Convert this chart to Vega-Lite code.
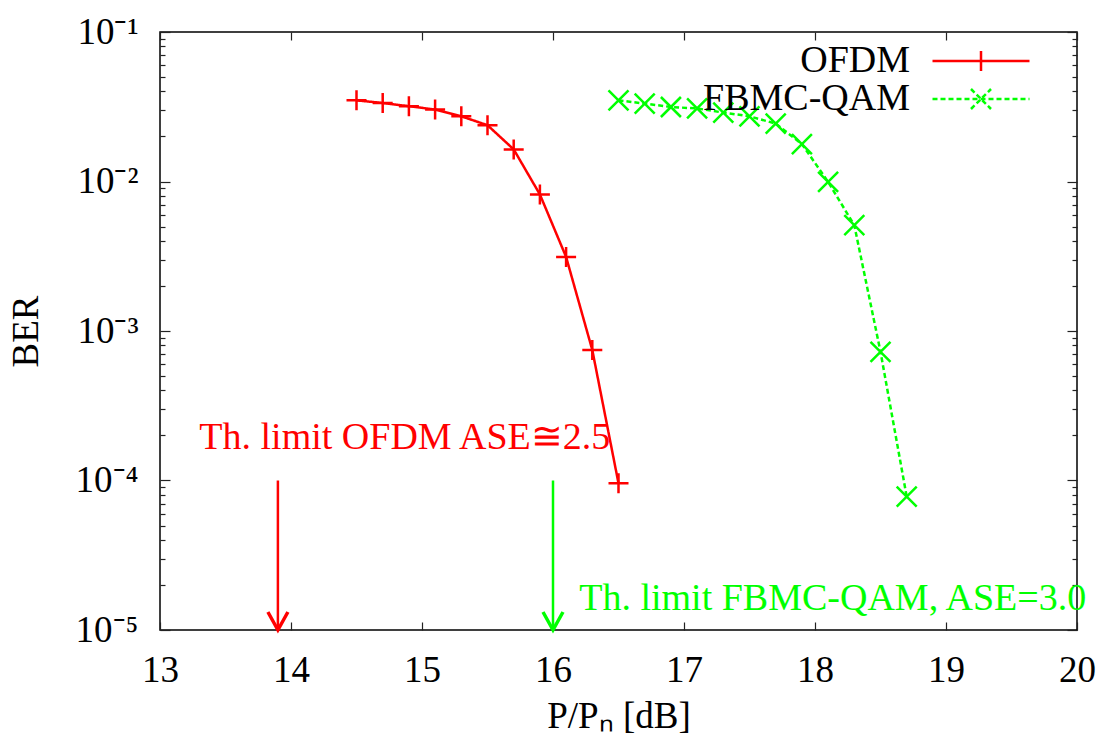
{
  "$schema": "https://vega.github.io/schema/vega-lite/v6.json",
  "width": 917,
  "height": 598,
  "autosize": {"type": "none"},
  "padding": {"left": 160, "top": 32, "right": 32, "bottom": 122},
  "background": "white",
  "config": {
    "font": "Liberation Serif",
    "view": {"stroke": "black", "strokeWidth": 1.5},
    "axis": {
      "labelFont": "Liberation Serif",
      "titleFont": "Liberation Serif",
      "labelFontSize": 37,
      "titleFontSize": 37,
      "labelColor": "black",
      "titleColor": "black",
      "titleFontWeight": "normal",
      "domain": false,
      "grid": false,
      "tickColor": "#222222",
      "tickWidth": 1.2
    }
  },
  "datasets": {
    "curves": [
      {"series": "OFDM", "x": 14.5, "ber": 0.0349},
      {"series": "OFDM", "x": 14.7, "ber": 0.0335},
      {"series": "OFDM", "x": 14.9, "ber": 0.0319},
      {"series": "OFDM", "x": 15.1, "ber": 0.0303},
      {"series": "OFDM", "x": 15.3, "ber": 0.0273},
      {"series": "OFDM", "x": 15.5, "ber": 0.0238},
      {"series": "OFDM", "x": 15.7, "ber": 0.0164},
      {"series": "OFDM", "x": 15.9, "ber": 0.00819},
      {"series": "OFDM", "x": 16.1, "ber": 0.00313},
      {"series": "OFDM", "x": 16.3, "ber": 0.000746},
      {"series": "OFDM", "x": 16.5, "ber": 0.0000958},
      {"series": "FBMC-QAM", "x": 16.5, "ber": 0.0349},
      {"series": "FBMC-QAM", "x": 16.7, "ber": 0.0332},
      {"series": "FBMC-QAM", "x": 16.9, "ber": 0.0315},
      {"series": "FBMC-QAM", "x": 17.1, "ber": 0.0308},
      {"series": "FBMC-QAM", "x": 17.3, "ber": 0.0289},
      {"series": "FBMC-QAM", "x": 17.5, "ber": 0.0273},
      {"series": "FBMC-QAM", "x": 17.7, "ber": 0.0244},
      {"series": "FBMC-QAM", "x": 17.9, "ber": 0.0178},
      {"series": "FBMC-QAM", "x": 18.1, "ber": 0.00994},
      {"series": "FBMC-QAM", "x": 18.3, "ber": 0.0051},
      {"series": "FBMC-QAM", "x": 18.5, "ber": 0.000726},
      {"series": "FBMC-QAM", "x": 18.7, "ber": 0.000078}
    ],
    "arrows": [
      {"series": "OFDM", "x": 13.9, "top": 0.0001, "bottom": 0.00001},
      {"series": "FBMC-QAM", "x": 16.0, "top": 0.0001, "bottom": 0.00001}
    ],
    "notes": [
      {"series": "OFDM", "x": 13.3, "ber": 0.000163, "text": "Th. limit OFDM ASE≅2.5"},
      {"series": "FBMC-QAM", "x": 16.2, "ber": 0.0000136, "text": "Th. limit FBMC-QAM, ASE=3.0"}
    ]
  },
  "layer": [
    {
      "data": {"name": "curves"},
      "mark": {"type": "line", "strokeWidth": 2.5},
      "encoding": {
        "x": {
          "field": "x", "type": "quantitative",
          "scale": {"domain": [13, 20], "nice": false, "zero": false},
          "axis": {
            "orient": "bottom", "values": [13, 14, 15, 16, 17, 18, 19, 20],
            "tickSize": -8, "labelPadding": 30, "title": "P/Pₙ [dB]", "titlePadding": 10,
            "labelFlush": false, "labelOverlap": false
          }
        },
        "y": {
          "field": "ber", "type": "quantitative",
          "scale": {"type": "log", "domain": [0.00001, 0.1], "nice": false},
          "axis": {
            "orient": "left", "values": [0.00001, 0.0001, 0.001, 0.01, 0.1],
            "labelExpr": "'10⁻' + ['⁰','¹','²','³','⁴','⁵'][round(-log(datum.value)/LN10)]",
            "tickSize": -10, "labelPadding": 32, "title": "BER", "titlePadding": 30,
            "labelFlush": false, "labelOverlap": false
          }
        },
        "color": {
          "field": "series", "type": "nominal",
          "scale": {"domain": ["OFDM", "FBMC-QAM"], "range": ["#ff0000", "#00ff00"]},
          "legend": {
            "orient": "none", "legendX": 802, "legendY": 10,
            "title": null, "padding": 0, "rowPadding": 0,
            "labelFont": "Liberation Serif", "labelFontSize": 38, "labelColor": "black",
            "labelOffset": -90, "labelAlign": "right", "labelLimit": 500,
            "symbolSize": 400, "symbolStrokeWidth": 2.5,
            "encode": {
              "symbols": {
                "update": {
                  "shape": {"signal": "datum.value === 'OFDM' ? 'M-4.85,0L4.85,0M0,-1L0,1' : 'M-4.85,0L4.85,0M-1,-1L1,1M-1,1L1,-1'"},
                  "strokeDash": {"signal": "datum.value === 'OFDM' ? [1,0] : [5,3]"},
                  "fill": {"value": "transparent"},
                  "stroke": {"scale": "color", "field": "value"}
                }
              }
            }
          }
        },
        "strokeDash": {
          "field": "series", "type": "nominal",
          "scale": {"domain": ["OFDM", "FBMC-QAM"], "range": [[1, 0], [5, 3]]},
          "legend": null
        }
      }
    },
    {
      "data": {"name": "curves"},
      "transform": [{"filter": "datum.series === 'OFDM'"}],
      "mark": {"type": "point", "filled": false, "size": 400, "strokeWidth": 2.5, "opacity": 1, "shape": "M-1,0L1,0M0,-1L0,1"},
      "encoding": {
        "x": {"field": "x", "type": "quantitative", "axis": null},
        "y": {"field": "ber", "type": "quantitative", "axis": null},
        "color": {"field": "series", "type": "nominal"}
      }
    },
    {
      "data": {"name": "curves"},
      "transform": [{"filter": "datum.series === 'FBMC-QAM'"}],
      "mark": {"type": "point", "filled": false, "size": 400, "strokeWidth": 2.5, "opacity": 1, "shape": "M-1,-1L1,1M-1,1L1,-1"},
      "encoding": {
        "x": {"field": "x", "type": "quantitative", "axis": null},
        "y": {"field": "ber", "type": "quantitative", "axis": null},
        "color": {"field": "series", "type": "nominal"}
      }
    },
    {
      "data": {"name": "arrows"},
      "mark": {"type": "rule", "strokeWidth": 2.5},
      "encoding": {
        "x": {"field": "x", "type": "quantitative", "axis": null},
        "y": {"field": "top", "type": "quantitative", "axis": null},
        "y2": {"field": "bottom"},
        "color": {"field": "series", "type": "nominal"}
      }
    },
    {
      "data": {"name": "arrows"},
      "mark": {"type": "point", "filled": false, "size": 400, "strokeWidth": 3.5, "opacity": 1, "shape": "M-1,-1.8L0,0L1,-1.8"},
      "encoding": {
        "x": {"field": "x", "type": "quantitative", "axis": null},
        "y": {"field": "bottom", "type": "quantitative", "axis": null},
        "color": {"field": "series", "type": "nominal"}
      }
    },
    {
      "data": {"name": "notes"},
      "mark": {"type": "text", "align": "left", "baseline": "alphabetic", "fontSize": 38, "font": "Liberation Serif"},
      "encoding": {
        "x": {"field": "x", "type": "quantitative", "axis": null},
        "y": {"field": "ber", "type": "quantitative", "axis": null},
        "text": {"field": "text"},
        "color": {"field": "series", "type": "nominal"}
      }
    },
    {
      "data": {"name": "curves"},
      "mark": {"type": "point", "opacity": 0},
      "encoding": {
        "x": {
          "field": "x", "type": "quantitative",
          "axis": {"orient": "top", "values": [13, 14, 15, 16, 17, 18, 19, 20], "tickSize": -8, "labels": false, "title": null}
        },
        "y": {
          "field": "ber", "type": "quantitative",
          "axis": {"orient": "right", "values": [0.00001, 0.0001, 0.001, 0.01, 0.1], "tickSize": -10, "labels": false, "title": null}
        }
      }
    },
    {
      "data": {"name": "curves"},
      "mark": {"type": "point", "opacity": 0},
      "encoding": {
        "x": {"field": "x", "type": "quantitative", "axis": null},
        "y": {
          "field": "ber", "type": "quantitative",
          "axis": {"orient": "left", "values": [0.00002, 0.00003, 0.00004, 0.00005, 0.00006, 0.00007, 0.00008, 0.00009, 0.0002, 0.0003, 0.0004, 0.0005, 0.0006, 0.0007, 0.0008, 0.0009, 0.002, 0.003, 0.004, 0.005, 0.006, 0.007, 0.008, 0.009, 0.02, 0.03, 0.04, 0.05, 0.06, 0.07, 0.08, 0.09], "tickSize": -5, "labels": false, "title": null}
        }
      }
    },
    {
      "data": {"name": "curves"},
      "mark": {"type": "point", "opacity": 0},
      "encoding": {
        "x": {"field": "x", "type": "quantitative", "axis": null},
        "y": {
          "field": "ber", "type": "quantitative",
          "axis": {"orient": "right", "values": [0.00002, 0.00003, 0.00004, 0.00005, 0.00006, 0.00007, 0.00008, 0.00009, 0.0002, 0.0003, 0.0004, 0.0005, 0.0006, 0.0007, 0.0008, 0.0009, 0.002, 0.003, 0.004, 0.005, 0.006, 0.007, 0.008, 0.009, 0.02, 0.03, 0.04, 0.05, 0.06, 0.07, 0.08, 0.09], "tickSize": -5, "labels": false, "title": null}
        }
      }
    }
  ],
  "resolve": {"axis": {"x": "independent", "y": "independent"}}
}
